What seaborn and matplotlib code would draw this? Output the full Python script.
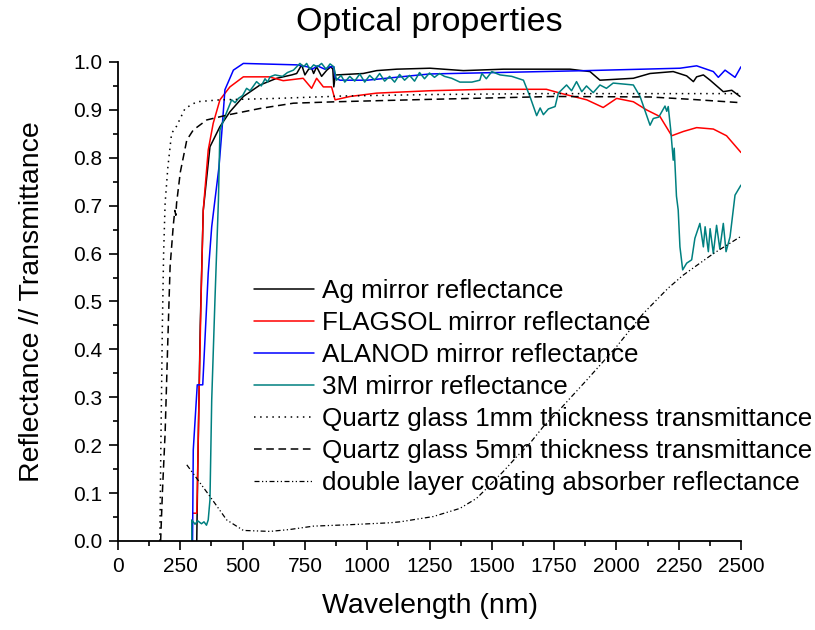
import matplotlib
matplotlib.use('Agg')
import matplotlib.pyplot as plt
from matplotlib.ticker import MultipleLocator
import seaborn as sns

# --- data (wavelength nm, value) ---
ag_x = [316, 320, 330, 342, 369, 409, 449, 503, 570, 637, 697, 717, 737, 750, 765, 777,
        785, 797, 817, 838, 854, 862, 866, 872, 877, 984, 1038, 1118, 1252, 1386, 1547,
        1814, 1894, 1934, 2068, 2135, 2228, 2282, 2309, 2322, 2349, 2376, 2429, 2463, 2496]
ag_y = [0.0, 0.15, 0.45, 0.69, 0.823, 0.865, 0.896, 0.928, 0.952, 0.966, 0.973, 0.976, 0.994,
        0.973, 0.985, 0.987, 0.976, 0.990, 0.970, 0.983, 0.990, 0.985, 0.948, 0.973, 0.973,
        0.976, 0.982, 0.985, 0.987, 0.982, 0.985, 0.985, 0.980, 0.962, 0.966, 0.976, 0.980,
        0.971, 0.959, 0.969, 0.973, 0.962, 0.938, 0.941, 0.928]

flagsol_x = [302, 316, 318, 325, 333, 342, 362, 382, 409, 449, 503, 606, 663, 743, 777, 797,
             824, 857, 871, 931, 1038, 1252, 1479, 1719, 1774, 1881, 1947, 2001, 2068, 2121,
             2175, 2222, 2269, 2322, 2389, 2442, 2500]
flagsol_y = [0.058, 0.058, 0.10, 0.30, 0.50, 0.69, 0.816, 0.872, 0.921, 0.948, 0.969, 0.969,
             0.961, 0.966, 0.945, 0.966, 0.948, 0.948, 0.921, 0.928, 0.935, 0.940, 0.943,
             0.943, 0.935, 0.921, 0.905, 0.924, 0.917, 0.900, 0.886, 0.846, 0.855, 0.863,
             0.860, 0.846, 0.811]

alanod_x = [299, 300, 302, 318, 340, 362, 376, 389, 405, 416, 429, 463, 503, 717, 760, 780,
            800, 830, 851, 866, 872, 891, 1000, 1172, 1252, 1881, 2255, 2322, 2389, 2409,
            2436, 2476, 2500]
alanod_y = [0.0, 0.058, 0.19, 0.326, 0.326, 0.559, 0.656, 0.712, 0.78, 0.85, 0.942, 0.983,
            0.997, 0.994, 0.990, 0.985, 0.992, 0.985, 0.990, 0.990, 0.966, 0.962, 0.962,
            0.971, 0.975, 0.982, 0.987, 0.992, 0.980, 0.968, 0.983, 0.968, 0.990]

m3_x = [296, 296, 309, 320, 335, 345, 355, 362, 369, 376, 389, 403, 409, 429, 456, 470, 483,
        500, 516, 530, 556, 575, 590, 600, 610, 630, 660, 680, 704, 730, 745, 757, 770, 785,
        800, 817, 835, 851, 866, 877, 895, 910, 930, 950, 970, 990, 1010, 1030, 1050, 1070,
        1090, 1110, 1130, 1150, 1170, 1190, 1210, 1230, 1250, 1270, 1290, 1310, 1339, 1372,
        1420, 1452, 1460, 1478, 1500, 1533, 1580, 1627, 1653, 1680, 1694, 1707, 1727, 1754,
        1767, 1800, 1820, 1840, 1861, 1880, 1907, 1934, 1960, 1987, 2068, 2095, 2135, 2148,
        2170, 2195, 2202, 2208, 2218, 2228, 2232, 2241, 2248, 2255, 2266, 2282, 2302, 2315,
        2335, 2349, 2356, 2369, 2376, 2389, 2402, 2415, 2429, 2440, 2456, 2476, 2500]
m3_y = [0.0, 0.044, 0.035, 0.042, 0.036, 0.040, 0.033, 0.044, 0.086, 0.294, 0.503, 0.712,
        0.858, 0.886, 0.921, 0.915, 0.924, 0.930, 0.945, 0.940, 0.959, 0.950, 0.965, 0.958,
        0.969, 0.973, 0.970, 0.978, 0.983, 0.997, 0.990, 0.997, 0.985, 0.994, 0.990, 0.997,
        0.985, 0.996, 0.990, 0.962, 0.972, 0.958, 0.970, 0.960, 0.975, 0.958, 0.972, 0.962,
        0.976, 0.960, 0.970, 0.958, 0.974, 0.962, 0.972, 0.960, 0.978, 0.965, 0.977, 0.968,
        0.976, 0.970, 0.966, 0.958, 0.958, 0.962, 0.976, 0.965, 0.980, 0.973, 0.970, 0.962,
        0.928, 0.888, 0.904, 0.890, 0.902, 0.907, 0.935, 0.952, 0.940, 0.959, 0.938, 0.950,
        0.936, 0.952, 0.945, 0.956, 0.952, 0.928, 0.868, 0.882, 0.885, 0.908, 0.897, 0.907,
        0.858, 0.795, 0.820, 0.720, 0.691, 0.614, 0.566, 0.580, 0.587, 0.632, 0.663, 0.614,
        0.656, 0.604, 0.652, 0.600, 0.659, 0.610, 0.663, 0.604, 0.635, 0.722, 0.743]

q1_x = [168, 172, 178, 183, 189, 200, 215, 235, 269, 316, 409, 637, 904, 1252, 1700, 2500]
q1_y = [0.0, 0.2, 0.45, 0.6, 0.705, 0.78, 0.851, 0.866, 0.903, 0.917, 0.921, 0.924, 0.929,
        0.932, 0.934, 0.934]

q5_x = [171, 178, 189, 200, 209, 222, 228, 232, 235, 250, 276, 302, 356, 436, 570, 704, 877,
        1252, 1747, 2135, 2300, 2500]
q5_y = [0.0, 0.1, 0.225, 0.42, 0.573, 0.66, 0.69, 0.68, 0.705, 0.77, 0.837, 0.858, 0.879,
        0.889, 0.903, 0.914, 0.917, 0.922, 0.928, 0.927, 0.922, 0.915]

abs_x = [276, 369, 436, 503, 610, 690, 784, 931, 1091, 1132, 1265, 1372, 1439, 1493, 1546,
         1600, 1653, 1707, 1760, 1807, 1881, 2001, 2108, 2208, 2268, 2389, 2500]
abs_y = [0.159, 0.093, 0.044, 0.022, 0.020, 0.024, 0.031, 0.034, 0.038, 0.040, 0.051, 0.068,
         0.089, 0.117, 0.145, 0.176, 0.204, 0.239, 0.267, 0.294, 0.336, 0.406, 0.475, 0.528,
         0.555, 0.600, 0.636]

series = [
    ('Ag mirror reflectance', ag_x, ag_y, 'black', '-', 1.1),
    ('FLAGSOL mirror reflectance', flagsol_x, flagsol_y, '#ff0000', '-', 1.1),
    ('ALANOD mirror reflectance', alanod_x, alanod_y, '#0000ff', '-', 1.1),
    ('3M mirror reflectance', m3_x, m3_y, '#008080', '-', 1.1),
    ('Quartz glass 1mm thickness transmittance', q1_x, q1_y, 'black', (0, (1, 3)), 1.1),
    ('Quartz glass 5mm thickness transmittance', q5_x, q5_y, 'black', (0, (5, 3)), 1.1),
    ('double layer coating absorber reflectance', abs_x, abs_y, 'black',
     (0, (4, 2, 1, 2, 1, 2)), 0.9),
]

sns.set_theme(style='ticks')
plt.rcParams['font.family'] = ['Liberation Sans', 'DejaVu Sans']
plt.rcParams['text.color'] = 'black'
plt.rcParams['axes.labelcolor'] = 'black'

fig = plt.figure(figsize=(8.15, 6.3), dpi=100)
ax = fig.add_axes([0.1448, 0.1413, 0.7644, 0.7603])

for name, xs, ys, col, ls, lw in series:
    sns.lineplot(x=xs, y=ys, ax=ax, color=col, linestyle=ls, linewidth=lw,
                 label=name, sort=False, estimator=None)

ax.set_xlim(0, 2500)
ax.set_ylim(0, 1.0)
ax.xaxis.set_major_locator(MultipleLocator(250))
ax.xaxis.set_minor_locator(MultipleLocator(125))
ax.yaxis.set_major_locator(MultipleLocator(0.1))
ax.yaxis.set_minor_locator(MultipleLocator(0.05))
ax.yaxis.set_major_formatter(plt.FormatStrFormatter('%.1f'))
ax.tick_params(which='major', direction='out', length=6.5, width=1.2, labelsize=15, pad=5,
               colors='black')
ax.tick_params(which='minor', direction='out', length=3.5, width=1.2, colors='black')
sns.despine(ax=ax)
for s in ('left', 'bottom'):
    ax.spines[s].set_linewidth(1.3)
    ax.spines[s].set_color('black')

ax.set_title('Optical properties', fontsize=24.5, pad=22, color='black')
ax.set_xlabel('Wavelength (nm)', fontsize=20.5, labelpad=12)
ax.set_ylabel('Reflectance // Transmittance', fontsize=20.5, labelpad=20)

leg = ax.legend(loc='lower left', bbox_to_anchor=(0.219, 0.095), frameon=False,
                fontsize=18.7, labelspacing=0.31, handlelength=2.3, handletextpad=0.3,
                borderaxespad=0, borderpad=0)
for t in leg.get_texts():
    t.set_color('black')

fig.savefig('out.png', dpi=100, facecolor='white')
